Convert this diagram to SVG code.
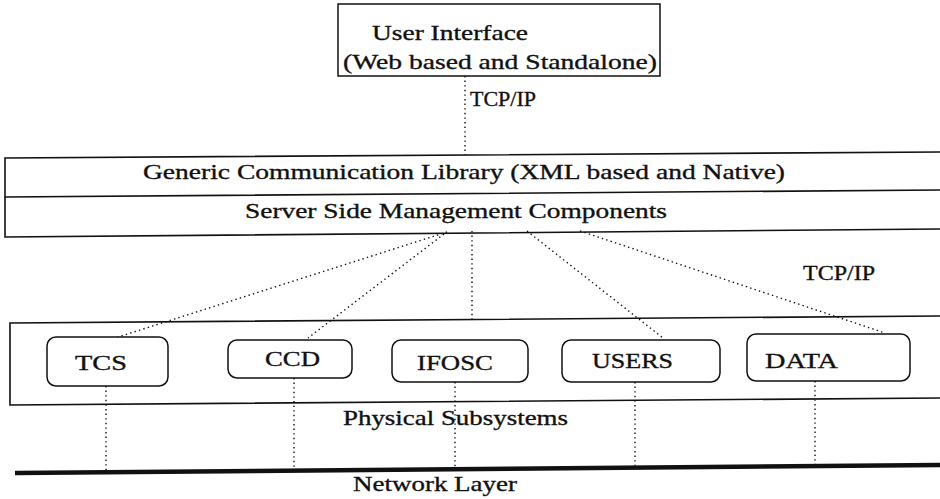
<svg xmlns="http://www.w3.org/2000/svg" width="940" height="499" viewBox="0 0 940 499">
<style>
.ln{fill:none;stroke:#111;stroke-width:1.6}
.box{fill:#fff;stroke:#111;stroke-width:1.5}
.dot{fill:none;stroke:#111;stroke-width:1.4;stroke-dasharray:1.4 3.2}
.t{font-family:"Liberation Serif","Times New Roman",serif;font-size:22px;fill:#111;stroke:#111;stroke-width:0.35}
</style>
<rect width="940" height="499" fill="#fff"/>
<g id="connectors">
<line class="dot" x1="465" y1="76" x2="465" y2="155"/>
<line class="dot" x1="447" y1="232" x2="115" y2="338"/>
<line class="dot" x1="444" y1="234" x2="308" y2="338"/>
<line class="dot" x1="472" y1="231" x2="472" y2="320"/>
<line class="dot" x1="527" y1="231" x2="663" y2="338"/>
<line class="dot" x1="580" y1="231" x2="885" y2="333"/>
<line class="dot" x1="106" y1="386" x2="106" y2="471"/>
<line class="dot" x1="294" y1="378" x2="294" y2="470"/>
<line class="dot" x1="455" y1="382" x2="455" y2="469"/>
<line class="dot" x1="635" y1="382" x2="635" y2="467"/>
<line class="dot" x1="815" y1="381" x2="815" y2="466"/>
</g>
<g id="ui">
<rect class="box" x="338" y="4" width="322" height="72"/>
<text class="t" x="372" y="40" textLength="156" lengthAdjust="spacingAndGlyphs">User Interface</text>
<text class="t" x="343" y="69" textLength="314" lengthAdjust="spacingAndGlyphs">(Web based and Standalone)</text>
</g>
<g id="tcpip-top">
<text class="t" x="470" y="106" textLength="66" lengthAdjust="spacingAndGlyphs">TCP/IP</text>
</g>
<g id="comm-lib">
<polyline class="ln" points="940,152 5,158 5,197 940,190"/>
<text class="t" x="143" y="179" textLength="642" lengthAdjust="spacingAndGlyphs">Generic Communication Library (XML based and Native)</text>
</g>
<g id="server-side">
<polyline class="ln" points="5,197 5,237 940,229"/>
<text class="t" x="245" y="218" textLength="422" lengthAdjust="spacingAndGlyphs">Server Side Management Components</text>
</g>
<g id="tcpip-right">
<text class="t" x="803" y="280" textLength="72" lengthAdjust="spacingAndGlyphs">TCP/IP</text>
</g>
<g id="subsystems">
<polyline class="ln" points="940,316 10,323 10,405 940,398"/>
<text class="t" x="343" y="425" textLength="225" lengthAdjust="spacingAndGlyphs">Physical Subsystems</text>
</g>
<g id="tcs">
<rect class="box" x="47" y="337" width="121" height="49" rx="9"/>
<text class="t" x="75" y="370" textLength="52" lengthAdjust="spacingAndGlyphs">TCS</text>
</g>
<g id="ccd">
<rect class="box" x="228" y="340" width="124" height="38" rx="9"/>
<text class="t" x="265" y="366" textLength="55" lengthAdjust="spacingAndGlyphs">CCD</text>
</g>
<g id="ifosc">
<rect class="box" x="392" y="340" width="136" height="42" rx="9"/>
<text class="t" x="417" y="370" textLength="76" lengthAdjust="spacingAndGlyphs">IFOSC</text>
</g>
<g id="users">
<rect class="box" x="562" y="340" width="158" height="42" rx="9"/>
<text class="t" x="592" y="368" textLength="81" lengthAdjust="spacingAndGlyphs">USERS</text>
</g>
<g id="data">
<rect class="box" x="747" y="334" width="163" height="47" rx="9"/>
<text class="t" x="765" y="368" textLength="73" lengthAdjust="spacingAndGlyphs">DATA</text>
</g>
<g id="network">
<line x1="15" y1="473" x2="940" y2="465" stroke="#111" stroke-width="4.5"/>
<text class="t" x="353" y="491" textLength="164" lengthAdjust="spacingAndGlyphs">Network Layer</text>
</g>
</svg>
